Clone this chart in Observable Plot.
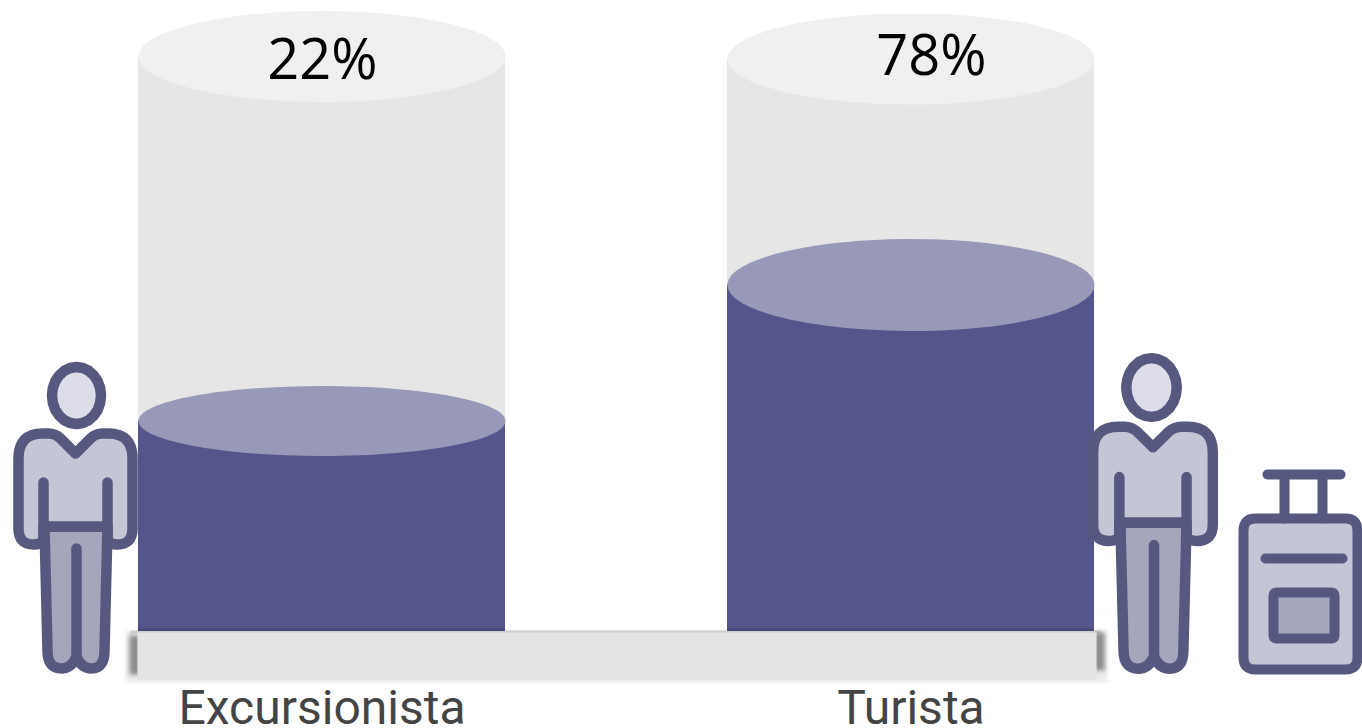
<!DOCTYPE html>
<html>
<head>
<meta charset="utf-8">
<style>
html,body{margin:0;padding:0;background:#fff;overflow:hidden}
svg{display:block}
</style>
<script src="https://cdn.jsdelivr.net/npm/d3@7"></script>
<script src="https://cdn.jsdelivr.net/npm/@observablehq/plot@0.6"></script>
</head>
<body>
<div id="chart"></div>
<script>
const categories = ["Excursionista", "Turista"];
const shares = [22, 78];
const shareLabels = ["22%", "78%"];
const cylinderFull = [172.1, 171.1];   // level of each cylinder's rim, in share units as drawn
const cylinderFloor = -64.67;          // level of the cylinders' floor, in share units as drawn

const rows = categories.map((category, i) => ({
  category, share: shares[i], full: cylinderFull[i], label: shareLabels[i]
}));

const W = 1362, H = 728;
const DARK = "#54558a", CAP = "#9899b8", TRACK = "#e6e6e6", RIM = "#f0f0f0";
const INK = "#57587f", LIGHT = "#c4c5d5", MID = "#a5a6bc", PALE = "#dcdde9";

function ellipse(rx, ry) {
  const k = 0.5522847;
  return {draw(c) {
    c.moveTo(-rx, 0);
    c.bezierCurveTo(-rx, -k * ry, -k * rx, -ry, 0, -ry);
    c.bezierCurveTo(k * rx, -ry, rx, -k * ry, rx, 0);
    c.bezierCurveTo(rx, k * ry, k * rx, ry, 0, ry);
    c.bezierCurveTo(-k * rx, ry, -rx, k * ry, -rx, 0);
    c.closePath();
  }};
}

// Icon outlines written as page-placed drawing commands
function shape(ops, ox = 0, oy = 0, sx = 1, sy = 1, ax = 0, ay = 0) {
  const X = x => ox + sx * (x - ax), Y = y => oy + sy * (y - ay);
  return {draw(c) {
    for (const o of ops) {
      const t = o[0];
      if (t === "M") c.moveTo(X(o[1]), Y(o[2]));
      else if (t === "L") c.lineTo(X(o[1]), Y(o[2]));
      else if (t === "Q") c.quadraticCurveTo(X(o[1]), Y(o[2]), X(o[3]), Y(o[4]));
      else if (t === "Z") c.closePath();
    }
  }};
}
function oval(cx, cy, rx, ry) {
  const ops = [["M", cx - rx, cy]];
  const n = 24;
  for (let i = 1; i <= n; i++) {
    const a = Math.PI + i / n * 2 * Math.PI;
    ops.push(["L", cx + rx * Math.cos(a), cy + ry * Math.sin(a)]);
  }
  ops.push(["Z"]);
  return ops;
}
function roundRect(x0, y0, x1, y1, r) {
  return [["M", x0 + r, y0], ["L", x1 - r, y0], ["Q", x1, y0, x1, y0 + r], ["L", x1, y1 - r], ["Q", x1, y1, x1 - r, y1],
          ["L", x0 + r, y1], ["Q", x0, y1, x0, y1 - r], ["L", x0, y0 + r], ["Q", x0, y0, x0 + r, y0], ["Z"]];
}

const legsOps = [["M",44,526],["L",47,650],["Q",47,668,61,668],["Q",71,668,76,656],["Q",81,668,91,668],["Q",104,668,104,650],["L",107,526],["Z"]];
const torsoOps = [["M",75,453],["L",60,438],["Q",55,433,48,433],["L",42,433],["Q",18,433,18,458],["L",18,528],
  ["Q",18,544,33,544],["Q",40,544,43,540],["L",43,526],["L",107,526],["L",107,540],["Q",110,544,117,544],["Q",132,544,132,528],
  ["L",132,458],["Q",132,433,108,433],["L",102,433],["Q",95,433,90,438],["Z"]];
const seamOps = [["M",43,482],["L",43,540],["M",107,482],["L",107,540],["M",76,548],["L",76,655]];
const headOps = oval(76, 395, 24.5, 28.5);

function person(ox, oy, sx, sy, headX) {
  const common = {frameAnchor: "top-left", stroke: INK, strokeWidth: 10.5, strokeLinejoin: "round", strokeLinecap: "round", imageFilter: "blur(0.6px)"};
  return [
    Plot.dot([0], {...common, fill: MID, symbol: shape(legsOps, ox, oy, sx, sy, 76, 395)}),
    Plot.dot([0], {...common, fill: LIGHT, symbol: shape(torsoOps, ox, oy, sx, sy, 76, 395)}),
    Plot.dot([0], {...common, fill: "none", symbol: shape(seamOps, ox, oy, sx, sy, 76, 395)}),
    Plot.dot([0], {...common, fill: PALE, symbol: shape(headOps, headX, oy, sy, sy, 76, 395)})
  ];
}

function suitcase() {
  const common = {frameAnchor: "top-left", stroke: INK, strokeWidth: 10, strokeLinejoin: "round", strokeLinecap: "round", imageFilter: "blur(0.6px)"};
  const handle = [["M",1267,474],["L",1340,474],["M",1284,474],["L",1284,518],["M",1322,474],["L",1322,518],["M",1265,558],["L",1342,558]];
  return [
    Plot.dot([0], {...common, fill: LIGHT, symbol: shape(roundRect(1243,518,1357,669,12))}),
    Plot.dot([0], {...common, fill: "none", symbol: shape(handle)}),
    Plot.dot([0], {...common, fill: MID, symbol: shape(roundRect(1273,592,1334,638,3))})
  ];
}

const chart = Plot.plot({
  width: W, height: H,
  margin: 0,
  style: {background: "#fff", overflow: "hidden"},
  x: {type: "band", domain: categories, range: [138, 1094], paddingInner: 0.3769, paddingOuter: 0, round: false, axis: null},
  y: {type: "linear", domain: [-104.61, 195.15], range: [H, 0], axis: null},
  marks: [
    // plinth halo and top edge
    Plot.frame({insetLeft: 125, insetRight: W - 1107, insetTop: 630, insetBottom: H - 682, fill: "#ececec", stroke: null, imageFilter: "blur(1.5px)"}),
    Plot.frame({insetLeft: 130, insetRight: W - 1100, insetTop: 630, insetBottom: H - 633, fill: "#cfcfcf", stroke: null, imageFilter: "blur(0.6px)"}),
    // empty cylinders
    Plot.barY(rows, {x: "category", y1: cylinderFloor, y2: "full", fill: TRACK}),
    Plot.dot(rows, {x: "category", y: "full", symbol: ellipse(183.5, 45.5), fill: RIM}),
    // filled part
    Plot.barY(rows, {x: "category", y1: cylinderFloor, y2: "share", fill: DARK}),
    Plot.barY(rows, {x: "category", y1: cylinderFloor, y2: cylinderFloor + 1.2, fill: "#4a4b7a"}),
    Plot.dot(rows.slice(0, 1), {x: "category", y: "share", symbol: ellipse(183.5, 35), fill: CAP}),
    Plot.dot(rows.slice(1), {x: "category", y: "share", symbol: ellipse(183.5, 46), fill: CAP}),
    // plinth ends and face
    Plot.frame({insetLeft: 129, insetRight: W - 139, insetTop: 635, insetBottom: H - 674, fill: "#8c8c8c", stroke: null, imageFilter: "blur(2px)"}),
    Plot.frame({insetLeft: 1094, insetRight: W - 1104, insetTop: 632, insetBottom: H - 670, fill: "#8c8c8c", stroke: null, imageFilter: "blur(2px)"}),
    Plot.frame({insetLeft: 137, insetRight: W - 1096, insetTop: 632, insetBottom: H - 680, fill: "#e4e4e4", stroke: null}),
    // texts
    Plot.text(rows.slice(0, 1), {x: "category", y: "full", text: "label", dx: 0.5, dy: 5, fontFamily: "Open Sans", fontSize: 56, fill: "#000"}),
    Plot.text(rows.slice(1), {x: "category", y: "full", text: "label", dx: 20.5, dy: -2, fontFamily: "Open Sans", fontSize: 56, fill: "#000"}),
    Plot.text(rows, {x: "category", frameAnchor: "bottom", lineAnchor: "bottom", text: "category", dy: -5, fontFamily: "Roboto", fontSize: 48, fill: "#444"}),
    // figures
    ...person(76, 395, 1, 1, 76),
    ...person(1153.5, 387, 1.05, 1.03, 1151),
    ...suitcase()
  ]
});
document.getElementById("chart").append(chart);
</script>
</body>
</html>
